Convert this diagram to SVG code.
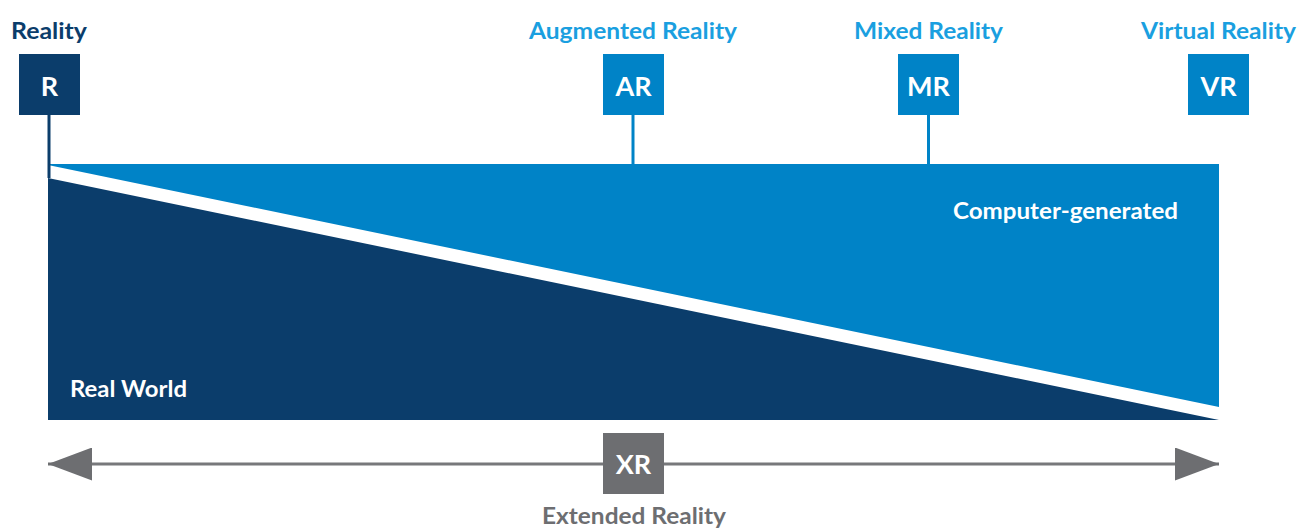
<svg xmlns="http://www.w3.org/2000/svg" width="1298" height="529" viewBox="0 0 1298 529">
<style>
.t{font-family:Lato,"Liberation Sans",sans-serif;font-weight:700;text-anchor:middle}
.top{font-size:23px;fill:#1a9fe0}
.box{font-size:27px;fill:#ffffff}
.dk{fill:#0b3d6b}
.lb{fill:#0083c7}
.gr{fill:#6d6e71}
</style>
<defs>
<marker id="ah" viewBox="0 0 44 33" refX="44" refY="16.5" markerWidth="44" markerHeight="33" markerUnits="userSpaceOnUse" orient="auto-start-reverse">
<path d="M0,0 L44,16.5 L0,33 Z" fill="#6d6e71"/>
</marker>
</defs>
<g id="spectrum">
<polygon class="lb" points="48,164 1219,164 1219,407 48,165"/>
<polygon class="dk" points="48,178 1219,420 48,420"/>
<text class="t" x="1065.5" y="219" font-size="22" fill="#ffffff" textLength="225" lengthAdjust="spacingAndGlyphs">Computer-generated</text>
<text class="t" x="128.5" y="397" font-size="23" fill="#ffffff" textLength="117" lengthAdjust="spacingAndGlyphs">Real World</text>
</g>
<g id="connectors" stroke-width="3">
<line x1="49" y1="115" x2="49" y2="178" stroke="#0b3d6b"/>
<line x1="633" y1="114" x2="633" y2="164" stroke="#0083c7"/>
<line x1="928.5" y1="114" x2="928.5" y2="164" stroke="#0083c7"/>
<line x1="92" y1="464" x2="1176" y2="464" stroke="#77787b"/>
<line x1="90" y1="464" x2="48" y2="464" stroke="#6d6e71" marker-end="url(#ah)"/>
<line x1="1178" y1="464" x2="1219" y2="464" stroke="#6d6e71" marker-end="url(#ah)"/>
</g>
<g id="node-R">
<text class="t" x="49" y="39" font-size="23" fill="#0b3d6b" textLength="76" lengthAdjust="spacingAndGlyphs">Reality</text>
<rect class="dk" x="19" y="54" width="61" height="61"/>
<text class="t box" x="49.5" y="96">R</text>
</g>
<g id="node-AR">
<text class="t top" x="633" y="39" textLength="208" lengthAdjust="spacingAndGlyphs">Augmented Reality</text>
<rect class="lb" x="603" y="54" width="61" height="61"/>
<text class="t box" x="633.5" y="96">AR</text>
</g>
<g id="node-MR">
<text class="t top" x="928.5" y="39" textLength="149" lengthAdjust="spacingAndGlyphs">Mixed Reality</text>
<rect class="lb" x="898" y="54" width="61" height="61"/>
<text class="t box" x="928.5" y="96">MR</text>
</g>
<g id="node-VR">
<text class="t top" x="1218.5" y="39" textLength="155" lengthAdjust="spacingAndGlyphs">Virtual Reality</text>
<rect class="lb" x="1188" y="54" width="61" height="61"/>
<text class="t box" x="1218.5" y="96">VR</text>
</g>
<g id="node-XR">
<rect class="gr" x="603" y="433" width="61" height="61"/>
<text class="t box" x="633.5" y="474">XR</text>
<text class="t" x="634" y="524" font-size="23" fill="#6d6e71" textLength="184" lengthAdjust="spacingAndGlyphs">Extended Reality</text>
</g>
</svg>
